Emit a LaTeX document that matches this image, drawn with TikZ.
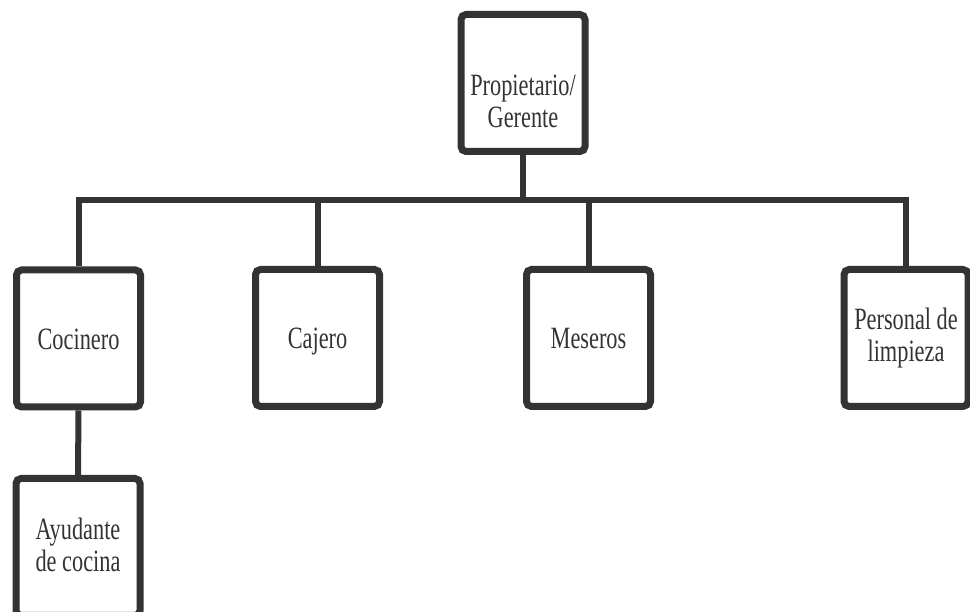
\documentclass[tikz,border=0pt]{standalone}
\usepackage{fontspec}
\setmainfont[FakeStretch=0.72]{Liberation Serif}
\definecolor{ink}{HTML}{333333}
\definecolor{txt}{HTML}{333333}
% strut that balances the cap height around the line's middle
\newcommand\boxstrut{\rule[-5pt]{0pt}{32pt}}
\tikzset{
  role/.style={draw=ink, line width=7pt, rounded corners=5pt, fill=white,
    minimum width=124pt, minimum height=137pt, inner sep=0pt,
    align=center, text=txt, font=\fontsize{31}{32}\selectfont,
    execute at begin node=\boxstrut, execute at end node=\boxstrut},
  link/.style={draw=ink, line width=6pt}
}
\begin{document}
\begin{tikzpicture}[x=1pt,y=1pt]
  \useasboundingbox (0,0) rectangle (970,612);
  % staff boxes
  \node[role] (own) at (523,529) {\raisebox{-22pt}[\height][\depth]{%
    \begin{tabular}{@{}c@{}}Propietario/\\Gerente\end{tabular}}};
  \node[role] (coc) at (78.5,273.5) {Cocinero};
  \node[role] (caj) at (317.5,274) {Cajero};
  \node[role] (mes) at (588.5,274) {Meseros};
  \node[role] (pers) at (906,274) {Personal de\\limpieza};
  \node[role] (ayu) at (78,65) {Ayudante\\de cocina};
  % reporting lines
  \coordinate (bus) at (523,412);
  \draw[link] (own.south) -- (own.south |- bus);
  \draw[link] (coc.north) |- (bus) -| (pers.north);
  \draw[link] (caj.north) -- (caj.north |- bus);
  \draw[link] (mes.north) -- (mes.north |- bus);
  \draw[link] (coc.south) -- (ayu.north);
\end{tikzpicture}
\end{document}
